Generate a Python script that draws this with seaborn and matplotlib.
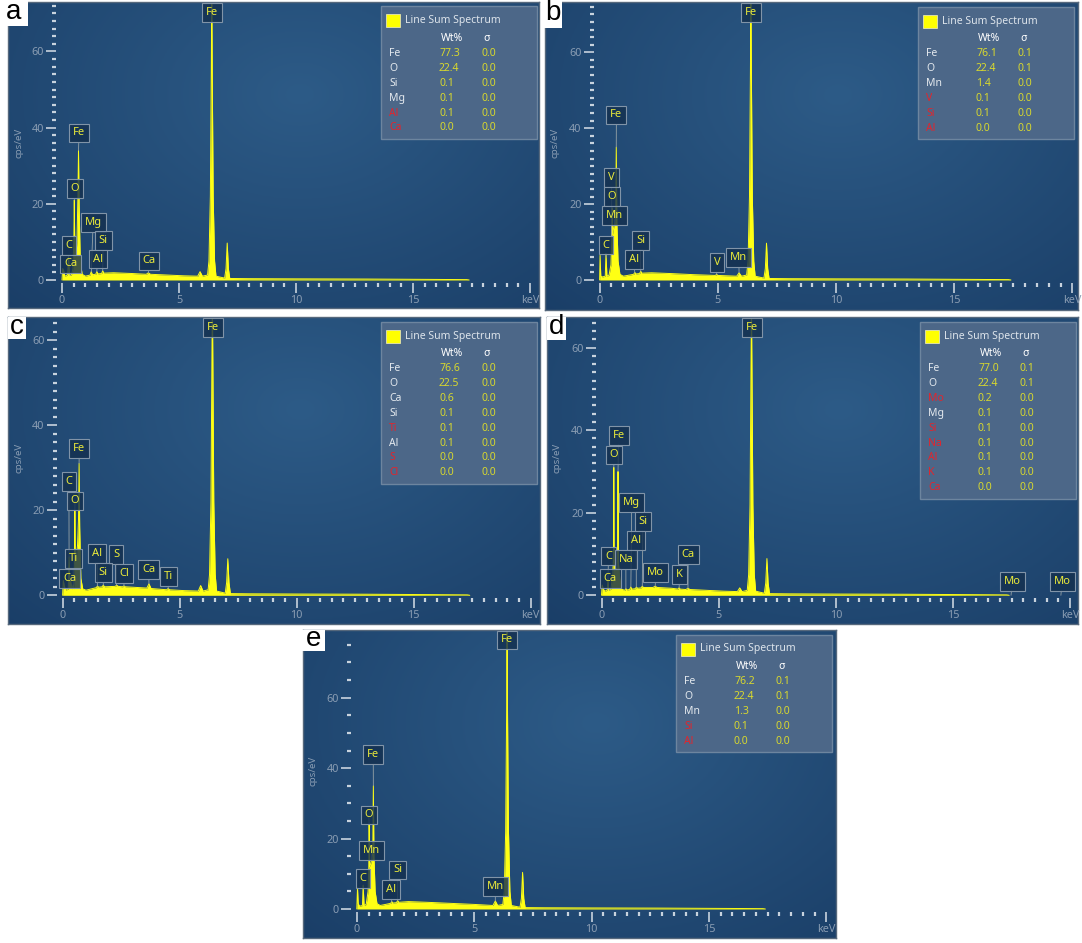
import numpy as np
import matplotlib
matplotlib.use("Agg")
import matplotlib.pyplot as plt
import seaborn as sns
from matplotlib.patches import Rectangle
from matplotlib.ticker import MultipleLocator

# ---- spectra (keV, cps/eV) ----
kev_a = [0.00, 0.03, 0.07, 0.12, 0.20, 0.24, 0.28, 0.32, 0.40, 0.47, 0.51, 0.525, 0.54, 0.58, 0.64, 0.68,
         0.705, 0.73, 0.78, 0.86, 1.00, 1.20, 1.25, 1.30, 1.44, 1.49, 1.54, 1.69, 1.74, 1.79, 2.20, 3.00,
         3.60, 3.69, 3.78, 4.50, 5.20, 5.80, 5.90, 6.00, 6.22, 6.28, 6.34, 6.38, 6.40, 6.42, 6.46, 6.52,
         6.58, 6.95, 7.01, 7.06, 7.11, 7.17, 8.0, 10.0, 13.0, 16.0, 17.3, 17.4]
cps_a = [0, 3.0, 2.5, 1.0, 1.2, 1.5, 6.0, 1.2, 1.3, 3.0, 12, 21, 12, 6, 10, 22,
         34, 20, 5, 1.5, 1.0, 1.3, 2.2, 1.4, 1.5, 2.2, 1.6, 1.7, 2.4, 1.8, 1.9, 1.7,
         1.5, 1.9, 1.5, 1.3, 1.1, 1.0, 2.2, 1.0, 1.3, 5, 22, 55, 76, 55, 22, 5,
         1.0, 0.5, 3, 9.7, 3, 0.4, 0.35, 0.3, 0.25, 0.15, 0.1, 0]

kev_b = [0.00, 0.02, 0.05, 0.12, 0.24, 0.27, 0.31, 0.40, 0.48, 0.51, 0.525, 0.55, 0.60, 0.64, 0.68,
         0.705, 0.73, 0.78, 0.86, 1.00, 1.44, 1.49, 1.54, 1.69, 1.74, 1.79, 2.20, 3.00, 4.00, 4.90,
         4.95, 5.00, 5.80, 5.90, 6.00, 6.22, 6.28, 6.34, 6.38, 6.40, 6.42, 6.46, 6.52, 6.58, 6.95,
         7.01, 7.06, 7.11, 7.17, 8.0, 10.0, 13.0, 16.0, 17.3, 17.4]
cps_b = [0, 6.5, 1.0, 0.8, 1.0, 7.0, 1.0, 1.3, 4, 10, 19, 12, 14, 15, 17,
         35, 15, 5, 1.5, 1.0, 1.5, 2.0, 1.6, 1.7, 2.3, 1.8, 1.9, 1.7, 1.4, 1.2,
         1.5, 1.2, 1.0, 1.9, 1.0, 1.3, 5, 22, 55, 76, 55, 22, 5, 1.0, 0.5,
         3, 9.7, 3, 0.4, 0.35, 0.3, 0.25, 0.15, 0.1, 0]

kev_c = [0.00, 0.03, 0.08, 0.14, 0.24, 0.277, 0.31, 0.34, 0.40, 0.45, 0.48, 0.51, 0.525, 0.54, 0.58,
         0.64, 0.68, 0.705, 0.73, 0.78, 0.86, 1.00, 1.44, 1.49, 1.54, 1.69, 1.74, 1.79, 2.25, 2.31,
         2.37, 2.56, 2.62, 2.68, 3.00, 3.60, 3.69, 3.78, 4.45, 4.51, 4.57, 5.20, 5.80, 5.90, 6.00,
         6.22, 6.28, 6.34, 6.38, 6.40, 6.42, 6.46, 6.52, 6.58, 6.95, 7.01, 7.06, 7.11, 7.17, 8.0,
         10.0, 13.0, 16.0, 17.3, 17.4]
cps_c = [0, 3.5, 2.0, 1.2, 1.5, 9, 2.0, 3.5, 1.5, 2.5, 1.5, 9, 20, 10, 8,
         12, 18, 31, 16, 4, 1.5, 1.2, 1.8, 2.2, 1.9, 2.0, 2.4, 2.0, 2.1, 2.4,
         2.1, 2.0, 2.2, 2.0, 1.9, 1.7, 2.7, 1.6, 1.3, 1.6, 1.3, 1.1, 1.0, 2.3, 1.0,
         1.3, 5, 22, 55, 70, 55, 22, 5, 1.0, 0.5, 3, 8.6, 3, 0.4, 0.35,
         0.3, 0.25, 0.15, 0.1, 0]

kev_d = [0.00, 0.03, 0.08, 0.14, 0.24, 0.277, 0.31, 0.40, 0.48, 0.51, 0.525, 0.54, 0.60, 0.66, 0.69,
         0.705, 0.72, 0.78, 0.86, 0.99, 1.04, 1.09, 1.20, 1.25, 1.30, 1.44, 1.49, 1.54, 1.69, 1.74,
         1.79, 2.20, 2.29, 2.38, 3.00, 3.27, 3.31, 3.36, 3.60, 3.69, 3.78, 4.50, 5.20, 5.80, 5.90,
         6.00, 6.22, 6.28, 6.34, 6.38, 6.40, 6.42, 6.46, 6.52, 6.58, 6.95, 7.01, 7.06, 7.11, 7.17,
         8.0, 10.0, 13.0, 16.0, 17.3, 17.4]
cps_d = [0, 2.5, 1.5, 1.0, 1.2, 4.0, 1.2, 1.5, 5, 9, 31, 8, 6.5, 6.5, 9,
         30, 8, 4, 1.5, 1.2, 1.6, 1.3, 1.4, 2.0, 1.5, 1.6, 2.0, 1.7, 1.8, 2.2,
         1.9, 1.9, 2.2, 1.9, 1.7, 1.5, 1.8, 1.5, 1.4, 1.7, 1.4, 1.2, 1.0, 0.9, 1.8,
         0.9, 1.2, 5, 22, 55, 70, 55, 22, 5, 1.0, 0.5, 3, 8.9, 3, 0.4,
         0.35, 0.3, 0.25, 0.15, 0.1, 0]

kev_e = [0.00, 0.03, 0.06, 0.12, 0.24, 0.27, 0.31, 0.40, 0.48, 0.51, 0.525, 0.55, 0.60, 0.64, 0.68,
         0.705, 0.73, 0.78, 0.86, 1.00, 1.44, 1.49, 1.54, 1.69, 1.74, 1.79, 2.20, 3.00, 4.00, 5.00,
         5.80, 5.90, 6.00, 6.22, 6.28, 6.34, 6.38, 6.40, 6.42, 6.46, 6.52, 6.58, 6.95, 7.01, 7.06,
         7.11, 7.17, 8.0, 10.0, 13.0, 16.0, 17.3, 17.4]
cps_e = [0, 6.0, 1.5, 0.8, 1.0, 6.8, 1.0, 1.3, 5, 12, 24, 12, 13, 14, 16,
         35, 15, 5, 1.5, 1.0, 1.6, 2.1, 1.7, 1.8, 2.4, 1.9, 2.1, 1.9, 1.6, 1.3,
         1.0, 2.3, 1.0, 1.3, 5, 22, 55, 80, 55, 22, 5, 1.0, 0.5, 3, 10.4,
         3, 0.4, 0.35, 0.3, 0.25, 0.15, 0.1, 0]

# ---- quantification tables ----
elem_a = ["Fe", "O", "Si", "Mg", "Al", "Ca"]
wt_a = ["77.3", "22.4", "0.1", "0.1", "0.1", "0.0"]
sig_a = ["0.0", "0.0", "0.0", "0.0", "0.0", "0.0"]
red_a = [0, 0, 0, 0, 1, 1]

elem_b = ["Fe", "O", "Mn", "V", "Si", "Al"]
wt_b = ["76.1", "22.4", "1.4", "0.1", "0.1", "0.0"]
sig_b = ["0.1", "0.1", "0.0", "0.0", "0.0", "0.0"]
red_b = [0, 0, 0, 1, 1, 1]

elem_c = ["Fe", "O", "Ca", "Si", "Ti", "Al", "S", "Cl"]
wt_c = ["76.6", "22.5", "0.6", "0.1", "0.1", "0.1", "0.0", "0.0"]
sig_c = ["0.0", "0.0", "0.0", "0.0", "0.0", "0.0", "0.0", "0.0"]
red_c = [0, 0, 0, 0, 1, 0, 1, 1]

elem_d = ["Fe", "O", "Mo", "Mg", "Si", "Na", "Al", "K", "Ca"]
wt_d = ["77.0", "22.4", "0.2", "0.1", "0.1", "0.1", "0.1", "0.1", "0.0"]
sig_d = ["0.1", "0.1", "0.0", "0.0", "0.0", "0.0", "0.0", "0.0", "0.0"]
red_d = [0, 0, 1, 0, 1, 1, 1, 1, 1]

elem_e = ["Fe", "O", "Mn", "Si", "Al"]
wt_e = ["76.2", "22.4", "1.3", "0.1", "0.0"]
sig_e = ["0.1", "0.1", "0.0", "0.0", "0.0"]
red_e = [0, 0, 0, 1, 1]

# ---- peak tags: element, line energy (keV) ----
tag_a = ["Fe", "Fe", "O", "Mg", "C", "Si", "Ca", "Al", "Ca"]
line_a = [6.40, 0.705, 0.525, 1.253, 0.277, 1.740, 0.341, 1.486, 3.690]
tag_b = ["Fe", "Fe", "V", "O", "Mn", "C", "Si", "Al", "V", "Mn"]
line_b = [6.40, 0.705, 0.511, 0.525, 0.637, 0.277, 1.740, 1.486, 4.952, 5.899]
tag_c = ["Fe", "Fe", "C", "O", "Ti", "Ca", "Al", "S", "Si", "Cl", "Ca", "Ti"]
line_c = [6.40, 0.705, 0.277, 0.525, 0.452, 0.341, 1.486, 2.307, 1.740, 2.622, 3.690, 4.511]
tag_d = ["Fe", "Fe", "O", "Mg", "Si", "Al", "C", "Na", "Ca", "Mo", "K", "Ca", "Mo", "Mo"]
line_d = [6.40, 0.705, 0.525, 1.253, 1.740, 1.486, 0.277, 1.041, 0.341, 2.293, 3.313, 3.690, 17.479, 19.607]
tag_e = ["Fe", "Fe", "O", "Mn", "C", "Si", "Al", "Mn"]
line_e = [6.40, 0.705, 0.525, 0.637, 0.277, 1.740, 1.486, 5.899]

# tag box centres (keV, cps/eV) -- layout
pos_a = [(6.42, 70.3), (0.73, 38.6), (0.55, 24), (1.33, 15), (0.30, 9), (1.76, 10.3), (0.38, 4.2), (1.52, 5.5), (3.72, 5.0)]
pos_b = [(6.40, 70.4), (0.71, 43.5), (0.51, 27), (0.53, 22), (0.64, 16.9), (0.27, 9.2), (1.73, 10.4), (1.45, 5.3),
         (4.96, 4.7), (5.89, 5.9)]
pos_c = [(6.44, 63), (0.71, 34.6), (0.27, 26.8), (0.53, 22.2), (0.45, 8.6), (0.30, 3.9), (1.48, 9.8), (2.30, 9.6),
         (1.73, 5.3), (2.62, 5.1), (3.68, 6.0), (4.54, 4.5)]
pos_d = [(6.43, 64.9), (0.73, 38.8), (0.54, 34), (1.29, 22.4), (1.77, 17.9), (1.48, 13.2), (0.30, 9.5), (1.04, 8.7),
         (0.37, 4.0), (2.31, 5.5), (3.33, 5.1), (3.70, 9.8), (17.54, 3.4), (19.66, 3.4)]
pos_e = [(6.41, 76.4), (0.70, 43.9), (0.51, 26.7), (0.63, 16.7), (0.27, 8.7), (1.75, 11.1), (1.47, 5.6), (5.90, 6.3)]

xticks = [0, 5, 10, 15, 20]
xticklabels = ["0", "5", "10", "15", "keV"]
yticks = [0, 20, 40, 60]

W, H = 1082, 943
YEL = "#ffff14"
TICK = "#c8d3de"
LAB = "#8a9db3"
VAL = "#d8d82e"
RED = "#e2252d"
BG_IN = np.array([45, 91, 135]) / 255
BG_OUT = np.array([26, 62, 103]) / 255

sns.set_theme(style="dark")
plt.rcParams["font.family"] = ["Noto Sans", "DejaVu Sans"]

fig = plt.figure(figsize=(W / 100, H / 100), dpi=100)
fig.patch.set_facecolor("white")


def frect(l, t, r, b):
    return [l / W, 1 - b / H, (r - l) / W, (b - t) / H]


def panel(letter, frame, lbox, axmap, ystep, kev, cps, elems, wts, sigs, reds, tags, lines, poss):
    l, t, r, b = frame
    w, h = r - l, b - t
    x0, pxk, y0, pxc = axmap

    # dark blue gradient backdrop
    bg = fig.add_axes(frect(l, t, r, b))
    gy, gx = np.mgrid[0:1:120j, 0:1:200j]
    d = np.clip(np.hypot((gx - 0.55) / 0.8, (gy - 0.3) / 1.0), 0, 1)[..., None]
    bg.imshow(BG_IN * (1 - d) + BG_OUT * d, extent=(0, w, h, 0), aspect="auto")
    bg.set_xlim(0, w)
    bg.set_ylim(h, 0)
    bg.set_xticks([])
    bg.set_yticks([])
    bg.grid(False)
    for s in bg.spines.values():
        s.set_color("#56687c")
        s.set_linewidth(1)

    bg.text(10.5, 141, "cps/eV", rotation=90, color=LAB, fontsize=7, ha="center", va="center")

    # quantification box
    L, T = 373, 4.5
    n = len(elems)
    bg.add_patch(Rectangle((L, T), 156, 47 + (n - 1) * 14.9 + 11, fc="#4c6788", ec="#6d859f", lw=1, zorder=3))
    bg.add_patch(Rectangle((L + 5, T + 8), 14, 13, fc="#ffff00", ec="#e6e6b0", lw=0.6, zorder=4))
    bg.text(L + 24, T + 14.5, "Line Sum Spectrum", color="#dde4eb", fontsize=7.5, va="center", zorder=5)
    bg.text(L + 71, T + 32, "Wt%", color="white", fontsize=7.5, fontweight="bold", ha="center", va="center", zorder=5)
    bg.text(L + 106, T + 32, "σ", color="white", fontsize=7.5, fontweight="bold", ha="center", va="center", zorder=5)
    for i, (e, wv, sv, rf) in enumerate(zip(elems, wts, sigs, reds)):
        yy = T + 47 + i * 14.9
        bg.text(L + 8, yy, e, color=RED if rf else "#e4e9ee", fontsize=7.5, va="center", zorder=5)
        bg.text(L + 58, yy, wv, color=VAL, fontsize=7.5, va="center", zorder=5)
        bg.text(L + 100, yy, sv, color=VAL, fontsize=7.5, va="center", zorder=5)

    # spectrum axes
    xl, xr = -6 / pxk, 20.2
    yb, yt = -3 / pxc, (y0 - t - 1) / pxc
    ax = fig.add_axes(frect(x0 + xl * pxk, t + 1, x0 + xr * pxk, y0 + 3))
    ax.set_facecolor("none")
    ax.grid(False)
    ax.fill_between(kev, cps, 0, color=YEL, lw=0, zorder=2)
    sns.lineplot(x=kev, y=cps, ax=ax, color=YEL, lw=0.7, estimator=None, sort=False, zorder=3)
    ax.set_xlim(xl, xr)
    ax.set_ylim(yb, yt)
    ax.set_xlabel("")
    ax.set_ylabel("")
    for s in ax.spines.values():
        s.set_visible(False)
    ax.set_xticks(xticks)
    ax.set_xticklabels(xticklabels)
    ax.set_yticks(yticks)
    ax.set_yticklabels([str(v) for v in yticks])
    ax.xaxis.set_minor_locator(MultipleLocator(0.5))
    ax.yaxis.set_minor_locator(MultipleLocator(ystep))
    ax.tick_params(which="major", direction="out", length=7.2, width=1.2, color=TICK, labelcolor=LAB,
                   labelsize=7.8, pad=1.5, bottom=True, left=True)
    ax.tick_params(which="minor", direction="out", length=3, width=1.6, color=TICK, bottom=True, left=True)

    for name, ln, (tx, ty) in zip(tags, lines, poss):
        tgt = min(float(np.interp(ln, kev, cps)), ty)
        ax.annotate(name, xy=(ln, tgt), xytext=(tx, ty), ha="center", va="center", fontsize=8,
                    color="#eaea3a", zorder=6, annotation_clip=False,
                    bbox=dict(boxstyle="square,pad=0.35", fc=(0.08, 0.19, 0.31, 0.82), ec="#8194a8", lw=0.8),
                    arrowprops=dict(arrowstyle="-", color="#97a3a6", lw=0.6, shrinkA=0, shrinkB=0))

    # panel letter
    bl, bt, br, bb = lbox
    fig.add_artist(Rectangle((bl / W, 1 - bb / H), (br - bl) / W, (bb - bt) / H, transform=fig.transFigure,
                             fc="white", ec="none", zorder=10))
    fig.text((bl + br) / 2 / W, 1 - ((bt + bb) / 2 - 1) / H, letter, fontsize=20, family="Liberation Sans",
             ha="center", va="center", color="black", zorder=11)


panel("a", (8, 2, 539, 308), (0, 0, 28, 26), (62, 23.4, 280, 3.81), 2,
      kev_a, cps_a, elem_a, wt_a, sig_a, red_a, tag_a, line_a, pos_a)
panel("b", (545, 2, 1078, 310), (544, 0, 562, 28), (599.6, 23.64, 280, 3.795), 2,
      kev_b, cps_b, elem_b, wt_b, sig_b, red_b, tag_b, line_b, pos_b)
panel("c", (8, 317, 540, 624), (8, 317, 26, 339), (62.6, 23.4, 595.3, 4.25), 2,
      kev_c, cps_c, elem_c, wt_c, sig_c, red_c, tag_c, line_c, pos_c)
panel("d", (547, 317, 1078, 624), (547, 317, 566, 340), (601.5, 23.43, 595.3, 4.127), 2,
      kev_d, cps_d, elem_d, wt_d, sig_d, red_d, tag_d, line_d, pos_d)
panel("e", (303, 630, 836, 938), (302, 630, 325, 651), (356.8, 23.48, 909, 3.522), 5,
      kev_e, cps_e, elem_e, wt_e, sig_e, red_e, tag_e, line_e, pos_e)

fig.savefig("out.png", dpi=100, facecolor="white")
